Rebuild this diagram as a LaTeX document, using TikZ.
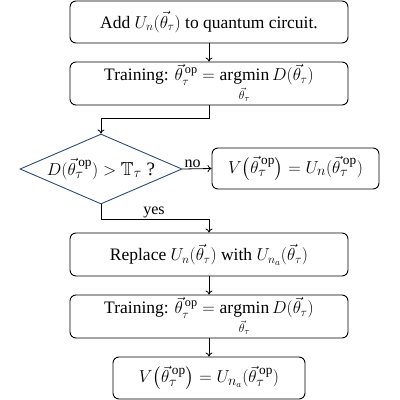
\documentclass[tikz,border=0pt]{standalone}
\usepackage{amsmath,amssymb}
\usepackage{fontspec}
\setmainfont{Liberation Serif}
\usetikzlibrary{shapes.geometric,arrows.meta}
\newcommand{\thv}{\vec{\theta}_{\tau}}
\newcommand{\thop}{\vec{\theta}_{\tau}^{\,\mathrm{op}}}
\newcommand{\amin}{\mathop{\mathrm{argmin}}\limits_{\vec{\theta}_{\tau}}}
\begin{document}
\begin{tikzpicture}[x=1pt,y=-1pt,
  box/.style={draw, line width=0.9pt, rounded corners=6pt, align=center, inner sep=0pt, font=\fontsize{17.5}{19}\selectfont},
  mbox/.style={box, font=\fontsize{19}{21}\selectfont},
  dec/.style={draw=decblue, line width=0.9pt, diamond, aspect=2.3, inner sep=0pt, minimum width=162pt, minimum height=70pt, font=\fontsize{19}{21}\selectfont},
  conn/.style={line width=0.8pt, -{To[length=4pt,width=7pt]}},
  lbl/.style={font=\fontsize{16}{18}\selectfont, inner sep=1pt}
]
\definecolor{decblue}{HTML}{2F4B74}
\useasboundingbox (0,0) rectangle (400,400);
\node[box, minimum width=278pt, minimum height=42pt] (b1) at (209,22) {Add $U_n(\thv)$ to quantum circuit.};
\node[box, minimum width=278pt, minimum height=43pt] (b2) at (209,83.5) {\raisebox{-5pt}{Training: $\displaystyle \thop = \amin D(\thv)$}};
\node[dec] (d) at (101,169) {$D(\thop) > \mathbb{T}_{\tau}$ ?};
\node[mbox, minimum width=167pt, minimum height=41pt] (b3) at (295.5,168.5) {$V\big(\thop\big) = U_n(\thop)$};
\node[box, minimum width=278pt, minimum height=43pt] (b4) at (209,254.5) {Replace $U_n(\thv)$ with $U_{n_a}(\thv)$};
\node[box, minimum width=278pt, minimum height=43pt] (b5) at (209,316.5) {\raisebox{-5pt}{Training: $\displaystyle \thop = \amin D(\thv)$}};
\node[mbox, minimum width=192pt, minimum height=42pt] (b6) at (209,378) {$V\big(\thop\big) = U_{n_a}(\thop)$};
\coordinate (k1) at (209,118);
\coordinate (k2) at (101,118);
\coordinate (k3) at (101,219);
\coordinate (k4) at (209,219);
\draw[conn] (b1) -- (b2);
\draw[conn] (b2.south) -- (k1) -- (k2) -- (d.north);
\draw[conn] (d.east) -- node[lbl, above, pos=0.35] {no} (b3.west);
\draw[conn] (d.south) -- (k3) -- (k4) -- (b4.north);
\node[lbl, above] (yes) at (154,219) {yes};
\draw[conn] (b4) -- (b5);
\draw[conn] (b5) -- (b6);
\end{tikzpicture}
\end{document}
